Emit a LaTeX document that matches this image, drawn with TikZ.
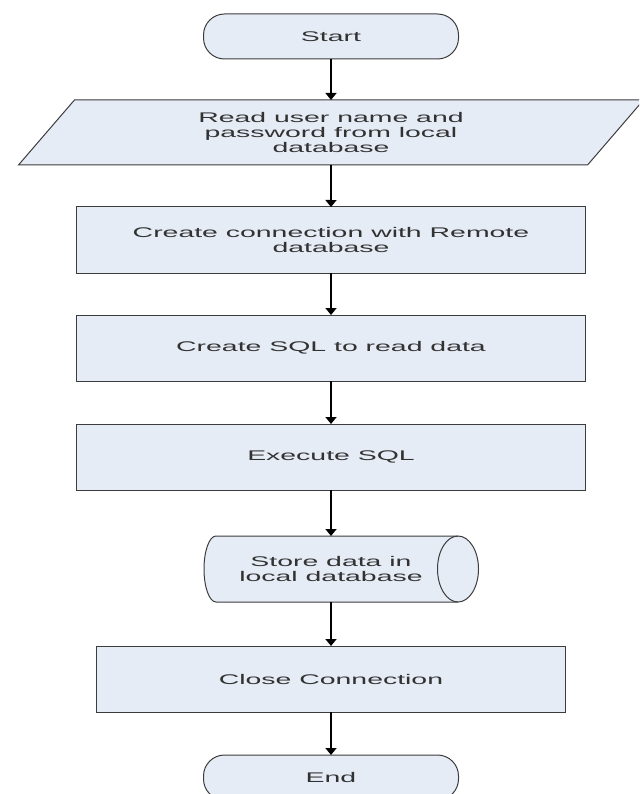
\documentclass[tikz,border=0pt]{standalone}
\usepackage{fontspec}
\setmainfont[FakeStretch=2.03]{Liberation Sans}
\usetikzlibrary{shapes.geometric,positioning,arrows.meta,backgrounds}

\definecolor{boxfill}{RGB}{230,236,246}
\definecolor{edgegray}{RGB}{60,60,60}
\definecolor{textgray}{RGB}{50,50,50}

\tikzset{
  base/.style={draw=edgegray, line width=1pt, fill=boxfill, text=textgray,
    font=\fontsize{14}{15}\selectfont, align=center, outer sep=0pt},
  terminal/.style={base, rounded corners=21pt, minimum width=255pt, minimum height=45pt},
  process/.style={base, rectangle, minimum width=509pt, minimum height=66pt},
  io/.style={base, trapezium, trapezium left angle=40, trapezium right angle=140,
    trapezium stretches body, minimum width=625pt, minimum height=65pt},
  storage/.style={base, draw=none, fill=none, minimum width=254pt, minimum height=66pt},
  flow/.style={-{Triangle[width=11pt,length=7pt]}, line width=1.6pt, black}
}

\begin{document}
\begin{tikzpicture}[on grid]
    \useasboundingbox (0,0) rectangle (639pt,-794pt);
    \clip (0,0) rectangle (639pt,-794pt);
    \node[terminal] (start) at (331pt,-36.5pt) {Start};
    \node[io]       (read)  [below=96pt of start]   {Read user name and\\password from local\\database};
    \node[process]  (conn)  [below=107.5pt of read] {Create connection with Remote\\database};
    \node[process]  (sql)   [below=108pt of conn]   {Create SQL to read data};
    \node[process]  (exec)  [below=109pt of sql]    {Execute SQL};
    \node[storage]  (store) [below=112pt of exec]   {Store data in\\local database};
    \node[process,minimum width=469pt] (close) [below=110pt of store] {Close Connection};
    \node[terminal] (end)   [below=98.5pt of close] {End};
    % stored data symbol
    \begin{scope}[on background layer]
    \filldraw[draw=edgegray, fill=boxfill, line width=1pt]
      ([xshift=12pt]store.north west) arc[start angle=90, end angle=270, x radius=12pt, y radius=33pt]
      -- (store.south east) arc[start angle=-90, end angle=90, x radius=20.5pt, y radius=33pt] -- cycle;
    \draw[edgegray, line width=1pt]
      (store.north east) arc[start angle=90, end angle=270, x radius=20.5pt, y radius=33pt];
    \end{scope}
    \path[flow]
    (start) edge (read)
    (read)  edge (conn)
    (conn)  edge (sql)
    (sql)   edge (exec)
    (exec)  edge (store)
    (store) edge (close)
    (close) edge (end);
  \end{tikzpicture}
\end{document}
